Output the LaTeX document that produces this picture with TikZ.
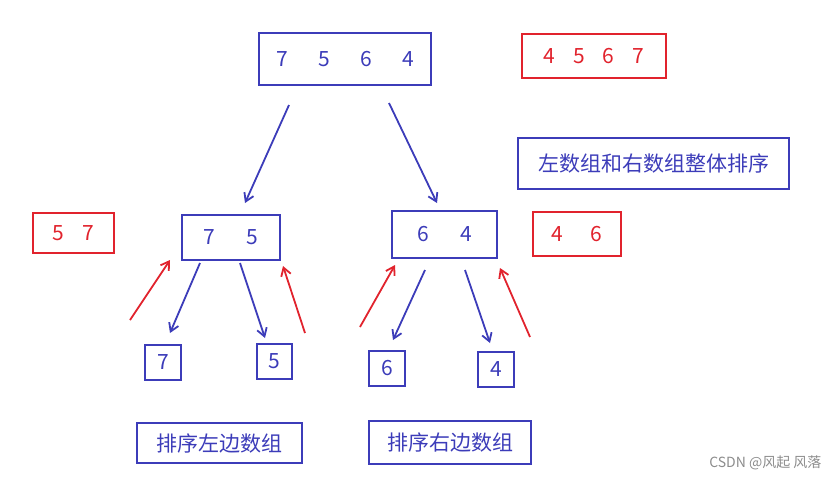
\documentclass[tikz,border=0pt]{standalone}
\usepackage{fontspec}
\setmainfont{Noto Sans CJK SC}
\usetikzlibrary{arrows.meta}
\definecolor{bl}{RGB}{60,60,185}
\definecolor{rd}{RGB}{225,35,45}
\begin{document}
\begin{tikzpicture}[x=1pt,y=-1pt,
 bbox/.style={draw=bl,line width=2pt,text=bl,font=\fontsize{21}{23}\selectfont,inner sep=0pt,anchor=north west},
 rbox/.style={draw=rd,line width=2pt,text=rd,font=\fontsize{21}{23}\selectfont,inner sep=0pt,anchor=north west},
 barr/.style={draw=bl,line width=1.8pt,-{Straight Barb[length=8pt,width=10pt]}},
 rarr/.style={draw=rd,line width=1.8pt,-{Straight Barb[length=8pt,width=10pt]}}]
\useasboundingbox (0,0) rectangle (835,482);
\node[bbox,minimum width=172pt,minimum height=52pt] (top) at (258,32) {7\hspace{1.45em}5\hspace{1.45em}6\hspace{1.45em}4};
\node[rbox,minimum width=144pt,minimum height=44pt] (rtop) at (521,33) {4\hspace{0.85em}5\hspace{0.85em}6\hspace{0.85em}7};
\node[bbox,minimum width=271pt,minimum height=51pt] (lbl) at (517,137) {左数组和右数组整体排序};
\node[bbox,minimum width=98pt,minimum height=45pt] (lm) at (181,214) {7\hspace{1.5em}5};
\node[rbox,minimum width=81pt,minimum height=40pt] (rl) at (32,212) {5\hspace{0.9em}7};
\node[bbox,minimum width=105pt,minimum height=47pt] (rm) at (391,210) {6\hspace{1.5em}4};
\node[rbox,minimum width=88pt,minimum height=44pt] (rr) at (532,211) {4\hspace{1.3em}6};
\node[bbox,minimum width=36pt,minimum height=35pt] (a) at (144,344) {7};
\node[bbox,minimum width=35pt,minimum height=35pt] (b) at (256,343) {5};
\node[bbox,minimum width=36pt,minimum height=35pt] (c) at (368,350) {6};
\node[bbox,minimum width=36pt,minimum height=35pt] (d) at (477,351) {4};
\node[bbox,minimum width=165pt,minimum height=40pt] (bl1) at (136,422) {排序左边数组};
\node[bbox,minimum width=162pt,minimum height=43pt] (bl2) at (368,420) {排序右边数组};
\coordinate (t1) at (289,105); \coordinate (t2) at (389,103);
\coordinate (l1) at (200,263); \coordinate (l2) at (240,263);
\coordinate (r1) at (425,270); \coordinate (r2) at (465,270);
\draw[barr] (t1) -- (245,203);
\draw[barr] (t2) -- (437,203);
\draw[barr] (l1) -- (170,333);
\draw[barr] (l2) -- (265,338);
\draw[barr] (r1) -- (393,340);
\draw[barr] (r2) -- (490,343);
\draw[rarr] (130,320) -- (170,260);
\draw[rarr] (305,333) -- (283,266);
\draw[rarr] (360,327) -- (395,265);
\draw[rarr] (530,337) -- (500,268);
\node[text=black!45,font=\fontsize{14}{16}\selectfont,anchor=east] (wm) at (825,463) {CSDN @风起 风落};
\end{tikzpicture}
\end{document}
